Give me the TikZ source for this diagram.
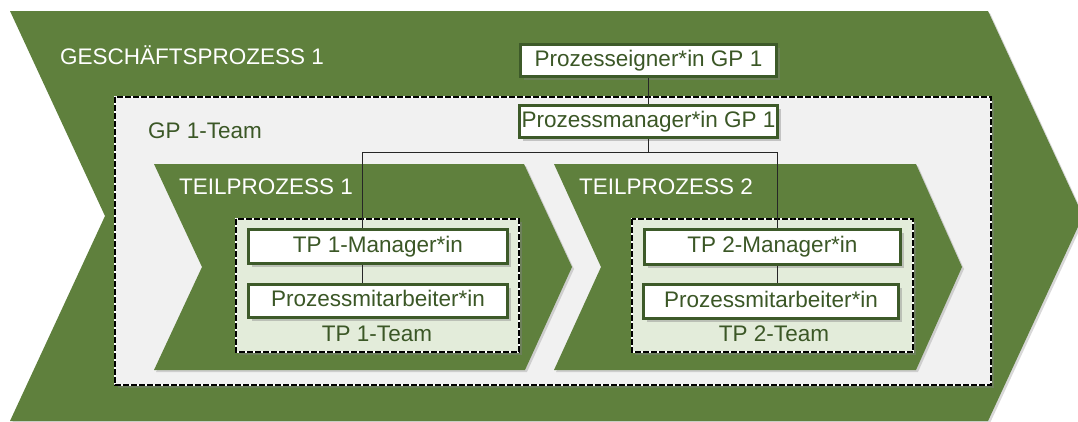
\documentclass[tikz,border=0pt]{standalone}
\usepackage{fontspec}
\setmainfont{Liberation Sans}
\usetikzlibrary{shadows}
\definecolor{procgreen}{HTML}{5F803D}
\definecolor{darkgreen}{HTML}{3D5A29}
\definecolor{textgreen}{HTML}{3B5726}
\definecolor{gpfill}{HTML}{F1F1F1}
\definecolor{teamfill}{HTML}{E3ECDA}
\tikzset{
  chev/.style={fill=procgreen, drop shadow={opacity=0.3, shadow xshift=2pt, shadow yshift=-2pt}},
  teambox/.style={fill=#1, drop shadow={opacity=0.45, shadow xshift=3pt, shadow yshift=-3pt}},
  dashborder/.style={draw=black, line width=2.1pt, dash pattern=on 6pt off 2pt},
  whiteborder/.style={draw=white, line width=2.1pt},
  rolebox/.style={draw=darkgreen, line width=2.6pt, fill=white, inner sep=0pt,
    text=textgreen, text height=16pt, text depth=5pt,
    drop shadow={opacity=0.4, shadow xshift=3pt, shadow yshift=-3pt}},
  whitelabel/.style={text=white, inner sep=0pt, anchor=base west},
  greenlabel/.style={text=textgreen, inner sep=0pt},
  conn/.style={draw=black!85, line width=0.9pt}
}
\begin{document}
\begin{tikzpicture}[x=1pt, y=-1pt, font=\fontsize{22.5}{27}\selectfont]
\useasboundingbox (0,0) rectangle (1078,421);
\clip (0,0) rectangle (1078,421);
\fill[white] (0,0) rectangle (1078,421);
% main chevron
\path[chev] (10,11) -- (988,11) -- (1083,216) -- (988,421) -- (10,421) -- (105,216) -- cycle;
\node[whitelabel] (gp) at (60,64) {GESCHÄFTSPROZESS 1};
% GP team box
\path[teambox=gpfill] (115,97) rectangle (991,385);
\draw[whiteborder] (115,97) rectangle (991,385);
\draw[dashborder] (115,97) rectangle (991,385);
\node[greenlabel, anchor=base west] (gpteam) at (148,138) {GP 1-Team};
% sub-process chevrons
\path[chev] (154,164) -- (524,164) -- (572,267) -- (525,370) -- (154,370) -- (202,267) -- cycle;
\path[chev] (554,164) -- (916,164) -- (962,267) -- (916,370) -- (554,370) -- (601,267) -- cycle;
\node[whitelabel] (tp1) at (179,194) {TEILPROZESS 1};
\node[whitelabel] (tp2) at (579,194) {TEILPROZESS 2};
% team boxes
\path[teambox=teamfill] (236,219) rectangle (519,352);
\draw[whiteborder] (236,219) rectangle (519,352);
\draw[dashborder] (236,219) rectangle (519,352);
\path[teambox=teamfill] (632,219) rectangle (913,352);
\draw[whiteborder] (632,219) rectangle (913,352);
\draw[dashborder] (632,219) rectangle (913,352);
\node[greenlabel, anchor=base] (tp1team) at (377,341) {TP 1-Team};
\node[greenlabel, anchor=base] (tp2team) at (774,341) {TP 2-Team};
% role boxes
\node[rolebox, minimum width=256pt, minimum height=32pt] (pe) at (648.5,60.5) {Prozesseigner*in GP 1};
\node[rolebox, minimum width=258pt, minimum height=32pt] (pm) at (648.5,121.5) {Prozessmanager*in GP 1};
\node[rolebox, minimum width=259pt, minimum height=34pt] (tp1m) at (378,246.5) {TP 1-Manager*in};
\node[rolebox, minimum width=259pt, minimum height=33pt] (tp1w) at (378,301) {Prozessmitarbeiter*in};
\node[rolebox, minimum width=256pt, minimum height=35pt] (tp2m) at (772.5,247) {TP 2-Manager*in};
\node[rolebox, minimum width=255pt, minimum height=34pt] (tp2w) at (771,301.5) {Prozessmitarbeiter*in};
% connectors
\coordinate (b1) at (362,152);
\coordinate (b2) at (777,152);
\path[conn] (pe.south) -- (pm.north);
\path[conn] (pm.south) -- (pm.south |- b1);
\path[conn] (b1) -- (b2);
\path[conn] (b1) -- (b1 |- tp1m.north);
\path[conn] (b2) -- (b2 |- tp2m.north);
\path[conn] (b1 |- tp1m.south) -- (b1 |- tp1w.north);
\path[conn] (b2 |- tp2m.south) -- (b2 |- tp2w.north);
\end{tikzpicture}
\end{document}
